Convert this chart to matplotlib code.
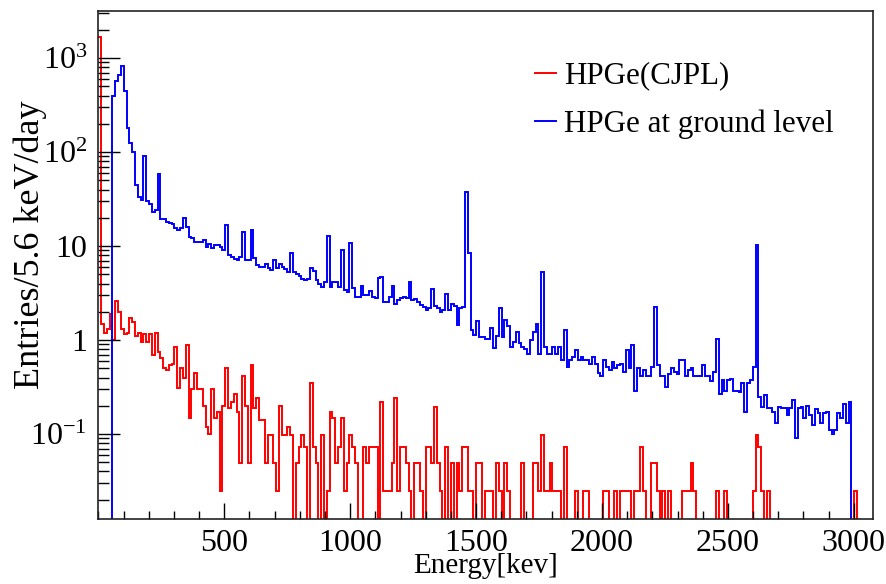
import numpy as np
import matplotlib
matplotlib.use('Agg')
import matplotlib.pyplot as plt
from matplotlib.lines import Line2D
from matplotlib.ticker import FixedLocator, MultipleLocator, LogLocator, NullFormatter

# histogram, two 5.6 keV bins merged per entry
bin_width = 11.2
blue_first_bin = 5

blue_ground = [
    400, 570, 660, 820, 450, 180, 125, 100, 45, 33,
    31, 90, 30, 28, 23, 24, 59, 19.5, 19.5, 18,
    17.5, 17, 15.5, 14.8, 15.5, 19.7, 16, 12.6, 12.3, 11,
    11, 11, 11.6, 9.9, 10.5, 9.5, 10.2, 10.2, 9.8, 9.1,
    16.7, 8.0, 7.6, 7.3, 7.2, 7.7, 14, 7.1, 7.1, 14.8,
    7.4, 6.3, 6.0, 6.0, 6.5, 5.8, 5.55, 7.1, 5.9, 6.4,
    6.0, 5.7, 5.3, 8.4, 5.3, 5.0, 4.8, 4.5, 4.35, 4.5,
    5.8, 5.5, 4.4, 4.0, 3.7, 4.2, 12.8, 3.7, 4.2, 4.2,
    3.7, 9.1, 3.4, 3.27, 10.7, 3.55, 2.9, 2.9, 3.8, 3.0,
    3.0, 3.3, 2.9, 2.8, 4.6, 4.7, 2.56, 2.56, 2.9, 3.8,
    2.45, 2.7, 2.8, 2.9, 2.8, 4.2, 2.66, 2.75, 2.55, 2.35,
    2.26, 2.1, 2.2, 3.5, 2.3, 2.2, 2.0, 2.1, 3.1, 2.1,
    2.4, 2.3, 1.44, 2.2, 2.26, 37.8, 8.4, 1.28, 1.13, 1.6,
    1.08, 1.08, 1.04, 1.04, 1.33, 0.82, 1.1, 2.17, 1.08, 1.63,
    1.4, 0.85, 0.96, 1.23, 0.93, 0.85, 0.8, 0.72, 1.0, 1.23,
    1.5, 0.72, 5.3, 0.85, 0.72, 0.72, 0.85, 0.72, 0.85, 0.61,
    1.28, 0.52, 0.61, 0.66, 0.78, 0.61, 0.66, 0.61, 0.61, 0.56,
    0.66, 0.56, 0.45, 0.41, 0.61, 0.52, 0.48, 0.59, 0.5, 0.54,
    0.56, 0.46, 0.78, 0.5, 0.88, 0.29, 0.5, 0.42, 0.48, 0.42,
    0.41, 0.52, 2.26, 0.54, 0.42, 0.42, 0.32, 0.44, 0.5, 0.46,
    0.44, 0.61, 0.61, 0.42, 0.48, 0.5, 0.42, 0.42, 0.41, 0.54,
    0.41, 0.41, 0.37, 0.46, 1.04, 0.27, 0.375, 0.29, 0.375, 0.39,
    0.29, 0.29, 0.28, 0.35, 0.17, 0.35, 0.375, 0.52, 10.2, 0.25,
    0.195, 0.26, 0.19, 0.19, 0.17, 0.13, 0.195, 0.19, 0.19, 0.16,
    0.19, 0.23, 0.09, 0.19, 0.195, 0.15, 0.2, 0.16, 0.125, 0.185,
    0.166, 0.13, 0.166, 0.17, 0.11, 0.1, 0.11, 0.166, 0.15, 0.21,
    0.13, 0.22,
]

red_cjpl = [
    1700, 1.5, 1.2, 1.3, 1.9, 1.0, 2.6, 2.0, 1.3, 1.15,
    1.2, 1.7, 1.55, 1.1, 1.2, 0.95, 1.15, 0.95, 1.15, 0.7,
    1.2, 0.75, 0.64, 0.5, 0.48, 0.55, 0.56, 0.85, 0.31, 0.5,
    0.4, 0.88, 0.15, 0.3, 0.45, 0.3, 0.3, 0.2, 0.12, 0.1,
    0.3, 0.15, 0.17, 0.0245, 0.2, 0.5, 0.19, 0.22, 0.27, 0.17,
    0.049, 0.42, 0.2, 0.049, 0.55, 0.19, 0.24, 0.14, 0.14, 0.049,
    0.098, 0.098, 0.049, 0.0245, 0.2, 0.098, 0.098, 0.12, 0.098, 0,
    0.049, 0.073, 0.098, 0.073, 0, 0.35, 0.073, 0.049, 0, 0.098,
    0, 0.0245, 0.17, 0.15, 0.049, 0.073, 0.15, 0.0245, 0.049, 0.098,
    0.073, 0.049, 0, 0, 0.073, 0.049, 0.073, 0.073, 0.073, 0,
    0.22, 0.0245, 0.0245, 0.0245, 0.049, 0.24, 0.0245, 0.073, 0.073, 0.049,
    0.0245, 0, 0.049, 0.049, 0.0245, 0, 0.073, 0.073, 0.049, 0.195,
    0.049, 0.0245, 0, 0.073, 0, 0.049, 0, 0.049, 0.0245, 0.073,
    0.073, 0.0245, 0.0245, 0, 0.049, 0.049, 0, 0.0245, 0.0245, 0.0245,
    0, 0.049, 0.0245, 0, 0.049, 0.0245, 0, 0, 0, 0,
    0.049, 0, 0, 0, 0.049, 0.049, 0.0245, 0.098, 0.0245, 0.0245,
    0.049, 0.0245, 0.0245, 0.0245, 0, 0.073, 0, 0, 0, 0.0245,
    0, 0, 0.0245, 0.0245, 0, 0, 0, 0, 0, 0.0245,
    0.0245, 0, 0, 0.0245, 0, 0.0245, 0.0245, 0.0245, 0.0245, 0,
    0.0245, 0.0245, 0.073, 0.0245, 0, 0, 0.049, 0.049, 0.0245, 0,
    0.0245, 0, 0.0245, 0, 0, 0, 0, 0.0245, 0.0245, 0.0245,
    0.049, 0.0245, 0, 0, 0, 0, 0, 0, 0, 0.0245,
    0, 0, 0.0245, 0, 0, 0, 0, 0, 0, 0,
    0, 0, 0.0245, 0.098, 0.073, 0.0245, 0, 0.0245, 0, 0,
    0, 0, 0, 0, 0, 0, 0, 0, 0, 0,
    0, 0, 0, 0, 0, 0, 0, 0, 0, 0,
    0, 0, 0, 0, 0, 0, 0, 0, 0.0245, 0,
    0, 0, 0, 0,
]

legend_labels = ['HPGe(CJPL)', 'HPGe at ground level']
ytick_vals = [0.1, 1, 10, 100, 1000]
ytick_text = [r'$10^{-1}$', '1', '10', r'$10^{2}$', r'$10^{3}$']
xtick_vals = [500, 1000, 1500, 2000, 2500, 3000]

plt.rcParams['font.family'] = ['Liberation Serif', 'DejaVu Serif']
plt.rcParams['mathtext.fontset'] = 'custom'
plt.rcParams['mathtext.rm'] = 'Liberation Serif'
plt.rcParams['mathtext.it'] = 'Liberation Serif:italic'
fs = 23

red = np.array(red_cjpl, dtype=float)
n = len(red)
blue = np.zeros(n)
blue[blue_first_bin:blue_first_bin + len(blue_ground)] = blue_ground
edges = np.arange(n + 1) * bin_width

fig = plt.figure(figsize=(8.86, 5.84), dpi=100)
ax = fig.add_axes([0.111, 0.1108, 0.874, 0.8709])

# empty bins fall to the bottom of the log axis, like ROOT does
floor = 1e-5
ax.stairs(np.where(red > 0, red, floor), edges, baseline=None, color='#ff0000', lw=1.4)
ax.stairs(np.where(blue > 0, blue, floor), edges, baseline=None, color='#0000ff', lw=1.4)

ax.set_yscale('log')
ax.set_xlim(0, 3075)
ax.set_ylim(0.0124, 3200)

ax.yaxis.set_major_locator(FixedLocator(ytick_vals))
ax.set_yticklabels(ytick_text)
ax.yaxis.set_minor_locator(LogLocator(base=10, subs=np.arange(2, 10), numticks=20))
ax.yaxis.set_minor_formatter(NullFormatter())
ax.xaxis.set_major_locator(FixedLocator(xtick_vals))
ax.xaxis.set_minor_locator(MultipleLocator(100))

ax.tick_params(axis='both', which='both', direction='in', labelsize=fs, width=1.0)
ax.tick_params(axis='y', which='major', length=16, pad=8)
ax.tick_params(axis='y', which='minor', length=8)
ax.tick_params(axis='x', which='major', length=11.5, pad=7)
ax.tick_params(axis='x', which='minor', length=5.5)
for s in ax.spines.values():
    s.set_linewidth(1.2)
    s.set_color('#222222')

ax.set_xlabel('Energy[kev]', fontsize=21)
ax.xaxis.set_label_coords(0.5, -0.066)
ax.set_ylabel('Entries/5.6 keV/day', fontsize=26)
ax.yaxis.set_label_coords(-0.066, 0.539)

handles = [Line2D([], [], color='#ff0000', lw=1.4), Line2D([], [], color='#0000ff', lw=1.4)]
ax.legend(handles, legend_labels, loc='center left', bbox_to_anchor=(0.564, 0.824),
          frameon=False, fontsize=22.3, handlelength=0.68, handletextpad=0.25,
          labelspacing=0.62, borderpad=0, borderaxespad=0)

fig.savefig('out.png', dpi=100)
